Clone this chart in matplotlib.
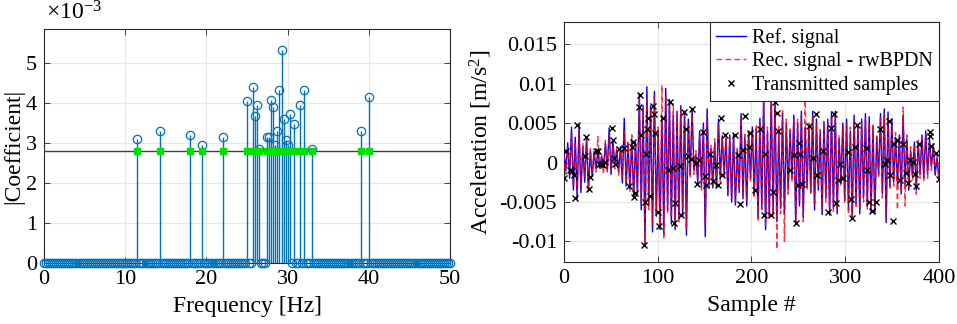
import matplotlib
matplotlib.use("Agg")
import matplotlib.pyplot as plt
import numpy as np

plt.rcParams['font.family'] = ['Liberation Serif', 'DejaVu Serif']
plt.rcParams['axes.unicode_minus'] = False
plt.rcParams['mathtext.fontset'] = 'custom'
plt.rcParams['mathtext.rm'] = 'Liberation Serif'
plt.rcParams['mathtext.it'] = 'Liberation Serif:italic'

# ---- left: coefficient magnitudes (x1e-3) ----
freq_step = 0.25
freq_max = 50.0
peak_freqs = [11.5, 14.25, 18.0, 19.5, 22.0, 25.0, 25.75, 26.0, 26.25, 26.5,
              27.5, 27.75, 28.0, 28.25, 28.5, 28.75, 29.0, 29.25, 29.5, 29.75,
              30.0, 30.25, 30.75, 31.5, 32.0, 33.0, 39.0, 40.0]
peak_coefs = [3.09, 3.31, 3.20, 2.94, 3.14, 4.06, 4.40, 3.68, 3.95, 2.85,
              3.14, 3.14, 4.07, 3.90, 2.95, 3.30, 4.32, 5.33, 3.59, 3.07,
              2.95, 3.72, 3.47, 3.95, 4.32, 2.84, 3.30, 4.14]
threshold = 2.8

# ---- right: time signals (x1e-3), successive peaks / troughs ----
ref_signal = [
    1.4, -1.0, 2.5, -2.0, 4.5, -3.5, 3.2, -4.6, 4.8, -3.8,
    2.0, -2.5, 3.2, -3.6, 1.5, -1.8, 1.4, -0.8, 1.5, -0.6,
    0.8, -0.6, 2.5, -1.0, 4.4, -1.5, 2.8, -0.5, 1.6, -1.2,
    2.0, -2.6, 5.6, -3.0, 2.3, -3.2, 3.0, -4.4, 2.6, -4.0,
    8.7, -6.0, 7.2, -10.4, 9.6, -5.5, 7.2, -8.8, 9.0, -6.8,
    4.0, -8.5, 5.8, -9.0, 9.4, -6.0, 8.0, -7.8, 6.0, -8.5,
    6.5, -7.2, 7.2, -6.8, 6.5, -9.2, 5.5, -1.5, 6.8, -1.0,
    1.0, -2.6, 4.0, -3.0, 5.0, -9.4, 6.8, -2.8, 1.8, -3.2,
    2.5, -3.2, 5.5, -2.0, 3.4, -1.5, 3.0, -4.2, 3.5, -5.0,
    3.6, -5.4, 1.5, -3.8, 6.2, -4.6, 3.2, -5.5, 3.8, -2.0,
    4.5, -4.2, 4.2, -7.0, 5.6, -5.8, 8.5, -8.5, 4.0, -6.8,
    8.5, -6.5, 8.0, -7.5, 4.0, -5.8, 6.2, -6.5, 5.0, -3.5,
    4.0, -2.0, 6.0, -7.8, 5.0, -5.5, 6.5, -7.0, 4.5, -3.2,
    4.6, -3.8, 6.5, -6.0, 5.5, -3.5, 3.8, -6.6, 5.2, -4.5,
    5.5, -6.5, 6.4, -5.8, 6.5, -6.5, 3.0, -2.5, 5.0, -4.8,
    5.5, -6.0, 4.0, -7.2, 6.0, -5.2, 4.8, -6.5, 5.5, -4.5,
    6.2, -5.5, 5.8, -6.3, 4.5, -6.5, 3.2, -1.5, 6.2, -4.0,
    6.8, -7.6, 6.4, -3.0, 5.5, -2.5, 3.2, -2.8, 3.5, -4.0,
    6.0, -2.8, 3.0, -3.5, 1.5, -1.8, 2.6, -3.5, 2.5, -1.5,
    3.5, -2.0, 4.0, -1.5, 3.0, -0.5, 2.0, -1.6, 0.6, -2.0,
]
rec_signal = [
    1.0, -1.5, 2.0, -1.2, 3.5, -3.0, 2.5, -3.8, 4.0, -3.0,
    2.5, -2.0, 3.5, -3.0, 1.8, -1.0, 1.2, -1.2, 3.3, -1.0,
    1.0, -1.5, 2.8, -1.2, 3.5, -1.0, 2.2, -0.8, 2.0, -1.6,
    1.5, -2.0, 4.0, -2.5, 2.6, -3.8, 3.5, -4.0, 2.2, -3.5,
    8.2, -5.0, 6.8, -10.8, 8.0, -6.0, 7.0, -8.0, 8.5, -6.5,
    4.5, -8.0, 9.8, -9.7, 8.6, -6.5, 7.5, -7.0, 7.5, -8.0,
    6.0, -7.5, 6.8, -6.0, 6.0, -8.5, 5.0, -2.0, 6.0, -1.5,
    1.5, -2.0, 3.5, -3.5, 4.5, -8.0, 6.0, -3.2, 2.2, -2.8,
    3.0, -3.0, 5.0, -2.5, 3.0, -1.8, 3.5, -3.8, 3.2, -4.6,
    3.2, -5.0, 1.8, -3.5, 5.6, -4.2, 3.6, -5.0, 4.2, -2.5,
    4.0, -4.5, 4.8, -7.5, 5.0, -6.0, 8.6, -8.0, 4.5, -7.2,
    8.0, -6.8, 8.2, -11.0, 4.6, -6.5, 6.8, -10.0, 5.5, -4.0,
    4.5, -2.5, 5.5, -8.0, 5.5, -5.0, 6.0, -7.5, 8.5, -3.5,
    5.0, -4.0, 6.0, -5.5, 5.0, -3.0, 4.2, -6.0, 5.0, -5.0,
    5.0, -6.8, 6.0, -6.2, 6.0, -6.0, 3.5, -3.0, 4.5, -5.2,
    5.0, -6.5, 4.5, -6.8, 5.5, -5.8, 4.4, -6.0, 5.0, -5.0,
    5.8, -6.0, 5.2, -5.8, 5.0, -6.0, 3.6, -2.0, 5.6, -4.5,
    6.2, -7.2, 5.8, -3.5, 5.0, -3.0, 3.8, -6.0, 3.0, -3.5,
    7.0, -5.5, 3.5, -3.0, 2.0, -2.2, 2.2, -4.0, 2.8, -2.0,
    3.2, -2.4, 3.6, -2.0, 2.5, -1.0, 2.4, -1.2, 1.0, -2.2,
]
n_samples = 400

# transmitted samples: index, value (x1e-3)
tx_index = [0, 2, 6, 9, 11, 12, 14, 22, 23, 27, 28, 34, 36, 37, 39, 42, 44, 51, 52, 53,
            54, 59, 64, 69, 73, 74, 75, 76, 80, 81, 82, 85, 86, 87, 89, 90, 92, 95, 96, 97,
            100, 101, 106, 111, 113, 116, 117, 118, 124, 125, 128, 130, 132, 136, 137, 141, 142, 144, 148, 150,
            152, 156, 159, 162, 164, 167, 169, 172, 182, 186, 188, 191, 193, 197, 198, 204, 209, 213, 215, 221,
            223, 225, 227, 228, 241, 245, 248, 250, 251, 252, 254, 261, 266, 269, 270, 276, 282, 285, 288, 290,
            292, 295, 298, 303, 306, 307, 311, 313, 322, 323, 325, 329, 333, 337, 342, 345, 347, 348, 351, 352,
            355, 358, 362, 365, 367, 369, 372, 374, 376, 379, 390, 391, 392, 397, 400]
tx_value = [-2.0, 1.4, -0.9, -1.1, -1.6, -4.5, 4.8, 0.8, 3.2, -3.4, -1.8, 1.5, 1.5, -0.2, -0.2, -0.3, 0.1, 4.4, 2.8, 0.6,
            -0.2, 1.7, 1.8, -3.0, 2.0, 2.6, -4.4, -3.8, 7.0, 8.6, 3.5, -10.4, -5.0, 1.1, 4.2, 5.6, -4.2, 7.2, 6.2, 3.8,
            -6.3, -8.1, 5.7, -1.0, 7.7, -0.7, -7.6, -5.1, -0.5, -6.7, 6.4, 4.3, 0.8, 0.5, 6.8, 0.0, -2.7, 0.3, 3.9, -1.7,
            -2.9, 1.1, -2.4, -0.3, -2.8, 5.6, -1.6, 3.5, 3.5, 1.0, -5.2, 1.6, 5.9, 2.0, 3.8, -3.5, 4.3, -6.6, 1.1, -6.6,
            -3.7, 7.7, 6.3, 4.0, -0.9, 1.0, -7.6, -2.8, 2.5, 1.1, -2.7, 4.6, 0.6, 6.2, -1.6, 1.4, -6.3, 4.4, 6.2, -5.1,
            -2.2, -0.2, -2.0, 1.3, -4.6, -7.0, 2.0, 4.7, 1.8, -1.0, -5.0, -6.1, -5.0, 4.3, -0.2, 0.3, 5.2, -1.6, -7.4, 2.4,
            2.9, -2.2, 2.3, -1.3, -2.6, 0.3, 0.1, -1.5, -3.0, 2.4, 3.9, 3.3, 2.1, 1.2, -2.1]

right_yticks = [-0.01, -0.005, 0, 0.005, 0.01, 0.015]
right_yticklabels = ['-0.01', '-0.005', '0', '0.005', '0.01', '0.015']

matlab_blue = '#0072BD'
axis_col = '#262626'
grid_col = '#E6E6E6'


def style_axes(ax):
    for s in ax.spines.values():
        s.set_color(axis_col)
        s.set_linewidth(0.8)
    ax.tick_params(direction='in', length=4, width=0.6, color=axis_col,
                   top=True, right=True, labelsize=16, pad=5)
    ax.grid(True, color=grid_col, linewidth=0.8)
    ax.set_axisbelow(True)


fig = plt.figure(figsize=(9.57, 3.24), dpi=100)

# ---------------- left panel ----------------
ax1 = fig.add_axes([0.046, 0.1883, 0.4242, 0.7222])
freqs = np.arange(0, freq_max + freq_step / 2, freq_step)
coefs = np.zeros_like(freqs)
for f, c in zip(peak_freqs, peak_coefs):
    coefs[int(round(f / freq_step))] = c

ax1.vlines(freqs, 0, coefs, color=matlab_blue, linewidth=1.0, zorder=3)
ax1.plot(freqs, coefs, 'o', mfc='none', mec=matlab_blue, ms=6, mew=0.9,
         clip_on=False, zorder=4)
ax1.axhline(threshold, color='#404040', linewidth=1.0, zorder=3)
ax1.plot(peak_freqs, [threshold] * len(peak_freqs), 's', color='#00E000',
         ms=4, zorder=5)

ax1.set_xlim(0, freq_max)
ax1.set_ylim(0, 5.85)
ax1.set_xticks([0, 10, 20, 30, 40, 50])
ax1.set_yticks([0, 1, 2, 3, 4, 5])
style_axes(ax1)
ax1.set_xlabel('Frequency [Hz]', fontsize=17, labelpad=5)
ax1.set_ylabel('|Coefficient|', fontsize=17, labelpad=1)
ax1.text(0.005, 1.02, '\u00d710$^{-3}$', transform=ax1.transAxes,
         fontsize=17, ha='left', va='bottom')

# ---------------- right panel ----------------
ax2 = fig.add_axes([0.5893, 0.1914, 0.3918, 0.7407])
ref = np.array(ref_signal) * 1e-3
rec = np.array(rec_signal) * 1e-3
t_ref = np.linspace(0, n_samples, len(ref))
t_rec = np.linspace(0, n_samples, len(rec))

ax2.plot(t_ref, ref, '-', color='#0000FF', linewidth=1.0, label='Ref. signal', zorder=3)
ax2.plot(t_rec, rec, '--', color='#FF0000', linewidth=1.0, dashes=(4, 2.5),
         alpha=0.8, label='Rec. signal - rwBPDN', zorder=4)
ax2.plot(tx_index, np.array(tx_value) * 1e-3, 'x', color='black', ms=4.5, mew=1.0,
         label='Transmitted samples', zorder=5)

ax2.set_xlim(0, n_samples)
ax2.set_ylim(-0.0126, 0.0178)
ax2.set_xticks([0, 100, 200, 300, 400])
ax2.set_yticks(right_yticks)
ax2.set_yticklabels(right_yticklabels)
style_axes(ax2)
ax2.set_xlabel('Sample #', fontsize=17, labelpad=5)
ax2.set_ylabel('Acceleration [m/s$^{2}$]', fontsize=17, labelpad=4)

leg = ax2.legend(loc='upper right', fontsize=14.5, borderaxespad=0, fancybox=False,
                 framealpha=1, edgecolor=axis_col, handlelength=1.5,
                 handletextpad=0.3, labelspacing=0.22, borderpad=0.3)
leg.get_frame().set_linewidth(0.8)

fig.savefig('out.png', dpi=100)
